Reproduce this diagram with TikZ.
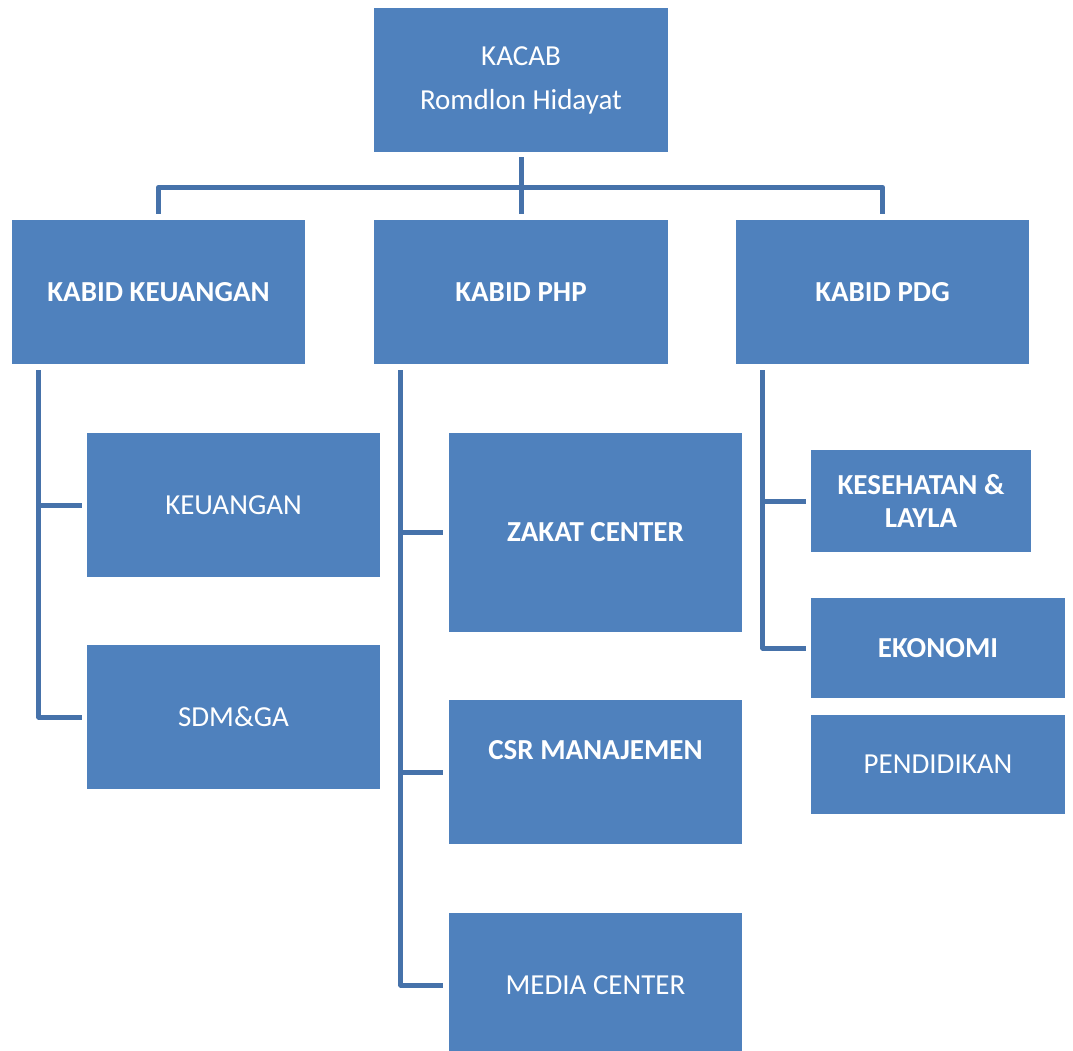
\documentclass[tikz,border=0pt]{standalone}
\usepackage{fontspec}
\setmainfont{Carlito}
\definecolor{boxblue}{HTML}{4F81BD}
\definecolor{lineblue}{HTML}{4672AA}
\begin{document}
\begin{tikzpicture}[x=1pt,y=-1pt,
  box/.style={fill=boxblue, draw=none, inner sep=0pt, text=white, align=center,
    font=\fontsize{29}{35}\selectfont},
  bbox/.style={box, font=\fontsize{29}{35}\selectfont\bfseries},
  conn/.style={draw=lineblue, line width=5pt, line join=round}]
\useasboundingbox (0,0) rectangle (1073,1051);
% top
\node[box, minimum width=294pt, minimum height=144pt] (kacab) at (521,80) {KACAB\\[9pt]Romdlon Hidayat};
% second level
\node[bbox, minimum width=293pt, minimum height=144pt] (kabidkeu) at (158.5,292) {KABID KEUANGAN};
\node[bbox, minimum width=294pt, minimum height=144pt] (kabidphp) at (521,292) {KABID PHP};
\node[bbox, minimum width=293pt, minimum height=144pt] (kabidpdg) at (882.5,292) {KABID PDG};
% keuangan branch
\node[box, minimum width=293pt, minimum height=144pt] (keuangan) at (233.5,505) {KEUANGAN};
\node[box, minimum width=293pt, minimum height=144pt] (sdm) at (233.5,717) {SDM\&GA};
% php branch
\node[bbox, minimum width=293pt, minimum height=199pt] (zakat) at (595.5,532.5) {ZAKAT CENTER};
\node[box, minimum width=293pt, minimum height=144pt] (csr) at (595.5,772) {};
\node[bbox, inner sep=0pt] (csrtext) at (595.5,750) {CSR MANAJEMEN};
\node[box, minimum width=293pt, minimum height=144pt] (media) at (595.5,985) {MEDIA CENTER};
% pdg branch
\node[bbox, minimum width=220pt, minimum height=102pt, font=\fontsize{29}{33}\selectfont\bfseries] (kes) at (921,501) {KESEHATAN \&\\LAYLA};
\node[bbox, minimum width=254pt, minimum height=100pt] (eko) at (938,648) {EKONOMI};
\node[box, minimum width=254pt, minimum height=99pt] (pend) at (938,764.5) {PENDIDIKAN};
% bus connectors
\coordinate (bus) at ([yshift=-35pt]kacab.south);
\draw[conn, shorten <=5pt, shorten >=6pt] (kacab.south) -- (bus) -| (kabidkeu.north);
\draw[conn, shorten <=5pt, shorten >=6pt] (kacab.south) -- (kabidphp.north);
\draw[conn, shorten <=5pt, shorten >=6pt] (kacab.south) -- (bus) -| (kabidpdg.north);
% left branch
\coordinate (kl) at ([xshift=27pt,yshift=-6pt]kabidkeu.south west);
\draw[conn] (kl) |- ([xshift=-5pt]sdm.west);
\draw[conn] (kl |- keuangan.west) -- ([xshift=-5pt]keuangan.west);
% middle branch
\coordinate (ml) at ([xshift=27pt,yshift=-6pt]kabidphp.south west);
\draw[conn] (ml) |- ([xshift=-6pt]media.west);
\draw[conn] (ml |- zakat.west) -- ([xshift=-6pt]zakat.west);
\draw[conn] (ml |- csr.west) -- ([xshift=-6pt]csr.west);
% right branch
\coordinate (rl) at ([xshift=27pt,yshift=-6pt]kabidpdg.south west);
\draw[conn] (rl) |- ([xshift=-5pt]eko.west);
\draw[conn] (rl |- kes.west) -- ([xshift=-5pt]kes.west);
\end{tikzpicture}
\end{document}
